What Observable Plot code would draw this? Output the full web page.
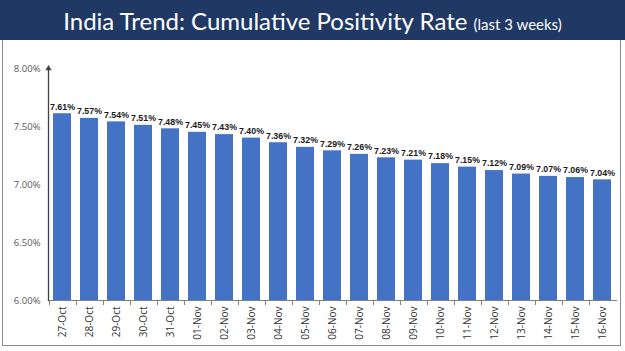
<!DOCTYPE html>
<html><head><meta charset="utf-8">
<script src="https://cdn.jsdelivr.net/npm/d3@7"></script>
<script src="https://cdn.jsdelivr.net/npm/@observablehq/plot@0.6"></script>
<style>
html,body{margin:0;padding:0;background:#fff;}
#wrap{width:625px;height:351px;position:relative;overflow:hidden;background:#fff;}
#head{height:40px;background:#1f3864;color:#fff;font-family:Lato,"Open Sans",sans-serif;text-align:center;line-height:42px;}
#head span{display:inline-block;font-size:24px;white-space:nowrap;}
#head small{font-size:15px;}
#box{position:absolute;left:2px;top:40px;width:617px;height:305px;border:1.5px solid #8a8a8a;border-top:none;}
#box svg{position:absolute;left:0;top:0;}
</style></head>
<body><div id="wrap">
<div id="head"><span>India Trend: Cumulative Positivity Rate <small>(last 3 weeks)</small></span></div>
<div id="box"></div>
</div>
<script>
const dates = ["27-Oct","28-Oct","29-Oct","30-Oct","31-Oct","01-Nov","02-Nov","03-Nov","04-Nov","05-Nov","06-Nov","07-Nov","08-Nov","09-Nov","10-Nov","11-Nov","12-Nov","13-Nov","14-Nov","15-Nov","16-Nov"];
const rates = [7.61,7.57,7.54,7.51,7.48,7.45,7.43,7.40,7.36,7.32,7.29,7.26,7.23,7.21,7.18,7.15,7.12,7.09,7.07,7.06,7.04];
const yTicks = [6.0,6.5,7.0,7.5,8.0];
const data = dates.map((d,i)=>({date:d, rate:rates[i]}));

const W = 617, H = 305, ML = 45, MR = 4;
const step = (W - ML - MR) / dates.length;
const chart = Plot.plot({
  width: W, height: H,
  marginTop: 28, marginBottom: 45, marginLeft: ML, marginRight: MR,
  style: {fontFamily: "'Open Sans', 'DejaVu Sans', sans-serif", background: "transparent"},
  x: {domain: dates, padding: 0, label: null},
  y: {domain: [6, 8], label: null},
  marks: [
    Plot.barY(data, {x: "date", y1: 6, y2: "rate", fill: "#4472c4", insetLeft: 4, insetRight: 5}),
    Plot.text(data, {x: "date", y: "rate", text: d => d.rate.toFixed(2) + "%", dy: -7, dx: -0.5, fontWeight: "bold", fontSize: 8.8, fontFamily: "'Liberation Sans', Arial, sans-serif", fill: "#1a1a1a"}),
    Plot.axisY({ticks: yTicks, tickFormat: d => d.toFixed(2) + "%", tickSize: 0, tickPadding: 8, fontSize: 9.5, color: "#595959", label: null}),
    Plot.frame({anchor: "bottom", stroke: "#7f7f7f"}),
    Plot.frame({anchor: "left", stroke: "#404040", strokeWidth: 1.3}),
    Plot.dot([8], {y: d => d, frameAnchor: "left", symbol: "triangle", r: 2.3, fill: "#404040", stroke: null}),
    Plot.axisX({tickFormat: () => "", tickSize: 5, dx: -step/2, stroke: "#7f7f7f", label: null}),
    Plot.axisX({tickSize: 0, tickRotate: -90, tickPadding: 6, fontSize: 10, color: "#333", label: null})
  ]
});
document.getElementById("box").appendChild(chart);
</script>
</body></html>
